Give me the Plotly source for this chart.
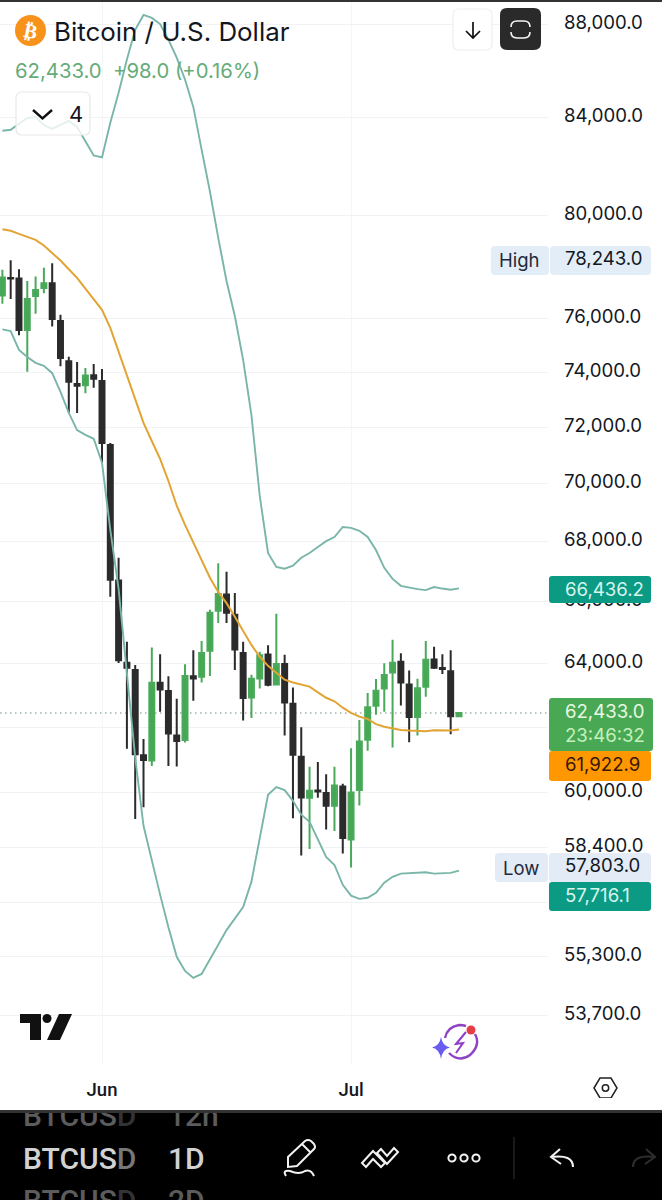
import math
import re
import pandas as pd
import plotly.graph_objects as go

# Daily BTC/USD candles, May 20 to Jul 14
dates = pd.date_range("2026-05-20", "2026-07-14", freq="D")

opens = [76880, 77550, 77530, 75570, 76860, 77170, 77350, 75910, 74400, 73560, 73520, 73880, 73670,
         71360, 66700, 64020, 63790, 61130, 60970, 63380, 63120, 61740, 61600, 63590, 63570, 64400,
         65700, 66230, 65570, 64330, 62920, 63520, 64280, 63330, 63980, 62720, 61090, 59850, 60070,
         59990, 59610, 60190, 58620, 60080, 61610, 62660, 63200, 63710, 64050, 63330, 62310, 63260,
         64120, 63850, 63750, 62335]
highs = [77870, 78243, 77890, 77440, 77610, 77950, 78130, 76150, 74570, 74370, 74150, 74300, 74110,
         71430, 67460, 64690, 63950, 61630, 64510, 64290, 63590, 62880, 63970, 64420, 64720, 65730,
         67270, 66990, 66280, 64690, 63640, 64370, 64580, 65600, 64270, 63230, 61990, 60780, 60930,
         60560, 60780, 60270, 61350, 62220, 63060, 63500, 64000, 64760, 64320, 63770, 63510, 64720,
         64530, 64290, 64420, 62460]
lows = [76560, 76750, 75370, 74010, 76180, 76970, 75700, 74220, 72520, 72510, 73220, 73420, 70730,
        66160, 64010, 61330, 59220, 59570, 60810, 62470, 60810, 60790, 61520, 62820, 63390, 63600,
        65300, 65300, 63790, 62200, 62280, 63200, 63270, 63300, 61740, 59240, 58150, 58340, 59850,
        58910, 58870, 58210, 57803, 59620, 61270, 62380, 62470, 61370, 62670, 61530, 61740, 62940,
        63820, 63660, 61780, 62310]
closes = [77570, 77530, 75570, 76750, 77090, 77350, 75985, 74520, 73640, 73500, 73870, 73750, 71430,
          66720, 64100, 63860, 61160, 60990, 63380, 63170, 61800, 61570, 63600, 63520, 64330, 65630,
          66250, 65630, 64440, 62900, 63510, 64260, 63320, 63980, 62760, 61150, 59860, 60060, 60040,
          59610, 60220, 58660, 60010, 61550, 62610, 63130, 63630, 64020, 63390, 62310, 63210, 64110,
          63860, 63820, 62335, 62433]

# Bollinger Bands read per day
band_upper = [83460, 83500, 83750, 83990, 84030, 83700, 83540, 83700, 83870, 83620, 83010, 82440, 82360,
              83790, 85060, 86480, 87770, 88420, 88290, 88020, 87340, 86560, 85620, 84460, 82680, 80970,
              79120, 77440, 76100, 74450, 72430, 69570, 67620, 67150, 67090, 67190, 67460, 67620, 67820,
              68020, 68160, 68500, 68470, 68370, 68160, 67720, 67120, 66750, 66520, 66460, 66410, 66380,
              66480, 66430, 66390, 66436.2]
band_basis = [79460, 79400, 79280, 79170, 79040, 78820, 78530, 78230, 77890, 77560, 77140, 76750, 76330,
              75650, 74760, 73850, 72940, 72150, 71500, 70870, 70090, 69230, 68570, 67960, 67360, 66790,
              66320, 65950, 65500, 65020, 64590, 64210, 63920, 63700, 63480, 63390, 63320, 63260, 63080,
              62910, 62800, 62600, 62440, 62320, 62250, 62090, 62010, 61960, 61910, 61890, 61880, 61870,
              61900, 61890, 61890, 61922.9]
band_lower = [75590, 75530, 74820, 74560, 74340, 74230, 73960, 73270, 72510, 71890, 71720, 71580, 70730,
              68400, 66420, 63730, 61060, 59020, 58000, 57030, 56110, 55290, 54900, 54710, 54820, 55200,
              55620, 56030, 56370, 56680, 57400, 58670, 59940, 60170, 60080, 59760, 59350, 59140, 58610,
              58110, 57880, 57310, 57000, 56910, 56940, 57080, 57370, 57540, 57630, 57640, 57660, 57670,
              57630, 57650, 57650, 57716.1]

price_ticks = [88000, 84000, 80000, 76000, 74000, 72000, 70000, 68000, 66000, 64000, 62000,
               60000, 58400, 56800, 55300, 53700]
month_ticks = ["2026-06-01", "2026-07-01"]
month_labels = ["Jun", "Jul"]

last_price = 62433.0
W, H = 662, 1200
PLOT_RIGHT, PLOT_BOTTOM = 548, 1064

# Log price scale: pixels per unit of ln(price), anchored on the 88,000 gridline
PX_PER_LN, Y_88K = 2006.0, 24.5
price_at = lambda py: 88000 * math.exp(-(py - Y_88K) / PX_PER_LN)
# Horizontal scale: 8.302 px per day, Jun 1 sits at x=102
PX_PER_DAY, X_JUN1 = 8.302, 102.0
date_at = lambda px: pd.Timestamp("2026-06-01") + pd.Timedelta(days=(px - X_JUN1) / PX_PER_DAY)

fx = lambda x: x / W
fy = lambda y: 1 - y / H


def path_px(d):
    """Turn a path written in page pixels into paper coordinates."""
    out, is_x = [], True
    for tok in re.findall(r"[MLQCZ]|-?\d+\.?\d*", d):
        if tok.isalpha():
            out.append(tok)
            is_x = True
        else:
            v = float(tok)
            out.append(f"{fx(v) if is_x else fy(v):.5f}")
            is_x = not is_x
    return " ".join(out)


def rounded(x0, y0, x1, y1, r):
    return (f"M {x0+r} {y0} L {x1-r} {y0} Q {x1} {y0} {x1} {y0+r} L {x1} {y1-r} Q {x1} {y1} {x1-r} {y1} "
            f"L {x0+r} {y1} Q {x0} {y1} {x0} {y1-r} L {x0} {y0+r} Q {x0} {y0} {x0+r} {y0} Z")


shapes, notes = [], []


def add_path(d, fill=None, line=None, width=0):
    s = dict(type="path", path=path_px(d), xref="paper", yref="paper", layer="above",
             line=dict(color=line or "rgba(0,0,0,0)", width=width))
    if fill:
        s["fillcolor"] = fill
    shapes.append(s)


def add_circle(cx, cy, r, fill=None, line=None, width=0):
    s = dict(type="circle", xref="paper", yref="paper", layer="above",
             x0=fx(cx - r), x1=fx(cx + r), y0=fy(cy + r), y1=fy(cy - r),
             line=dict(color=line or "rgba(0,0,0,0)", width=width))
    if fill:
        s["fillcolor"] = fill
    shapes.append(s)


def add_text(text, x, y, size, color, family="Inter", anchor="left", weight=None, angle=0):
    font = dict(family=family, size=size, color=color)
    if weight:
        font["weight"] = weight
    notes.append(dict(text=text, x=fx(x), y=fy(y), xref="paper", yref="paper", xanchor=anchor,
                      yanchor="middle", showarrow=False, font=font, textangle=angle, borderpad=0))


fig = go.Figure()
band_color = "#7ab5a9"
for name, vals, color, lw in [("Upper", band_upper, band_color, 1.9),
                              ("Lower", band_lower, band_color, 1.9),
                              ("Basis", band_basis, "#e2a434", 2.0)]:
    fig.add_trace(go.Scatter(x=dates, y=vals, mode="lines", name=name,
                             line=dict(color=color, width=lw), showlegend=False))
fig.add_trace(go.Candlestick(
    x=dates, open=opens, high=highs, low=lows, close=closes, name="BTCUSD", showlegend=False,
    increasing=dict(line=dict(color="#4aa95a", width=2), fillcolor="#45a853"),
    decreasing=dict(line=dict(color="#2b2b2b", width=2), fillcolor="#2b2b2b"),
))

# Last-price dotted guide
shapes.append(dict(type="line", xref="x", yref="y", layer="below",
                   x0=date_at(0), x1=date_at(PLOT_RIGHT), y0=last_price, y1=last_price,
                   line=dict(color="#9db5a2", width=1.4, dash="1.5px,3.5px")))

# Top edge of the page
add_path("M 0 0 L 662 0 L 662 2 L 0 2 Z", fill="#333333")

# Header
add_circle(30.5, 30.5, 15.5, fill="#f7931a")
add_text("₿", 30.5, 31, 20, "#ffffff", family="DejaVu Sans", anchor="center", weight="bold", angle=12)
add_text("Bitcoin / U.S. Dollar", 53, 31, 25.9, "#131722")
add_text("62,433.0\u00a0\u00a0+98.0 (+0.16%)", 14, 70, 20.3, "#66ab79")

# Collapsed indicators button
add_path(rounded(16, 92, 90, 135, 6), fill="rgba(255,255,255,0.8)", line="#e8e8e8", width=1.2)
add_path("M 33 110 L 42.5 118.5 L 52 110", line="#111111", width=2.4)
add_text("4", 68, 114, 22, "#131722")

# Top-right buttons
add_path(rounded(453, 9, 492, 50, 6), fill="#ffffff", line="#eeeeee", width=1.2)
add_path("M 473 22 L 473 38 M 466 31 L 473 38 L 480 31", line="#111111", width=1.7)
add_path(rounded(500, 8, 541, 50, 7), fill="#2a2a2a")
add_path("M 511 27 Q 511 21 517 21 L 524 21 Q 530 21 530 27 M 511 32 Q 511 38 517 38 L 524 38 Q 530 38 530 32",
         line="#f5f5f5", width=1.6)

# Price tags on the scale
TAG_X0, TAG_X1 = 549, 651
LABEL_X, LABEL_SIZE = 563.5, 18.6
add_path(rounded(491, 246, 549, 275, 4), fill="#e3edf8")
add_path(rounded(550, 246, 651, 275, 4), fill="#e3edf8")
add_text("High", 497.5, 260, 18.5, "#1f2a3a")
add_text("78,243.0", LABEL_X, 258, LABEL_SIZE, "#131722")

add_path(rounded(TAG_X0, 576, TAG_X1, 603, 3), fill="#0b9a83")
add_text("66,436.2", LABEL_X, 589, LABEL_SIZE, "#d8f5ee")

add_path(rounded(TAG_X0, 698, 653, 751, 3), fill="#48a854")
add_text("62,433.0", LABEL_X, 711, LABEL_SIZE, "#e8f8e4")
add_text("23:46:32", LABEL_X, 735, LABEL_SIZE, "#c6f0bb")

add_path(rounded(TAG_X0, 751, TAG_X1, 781, 3), fill="#ff9800")
add_text("61,922.9", LABEL_X, 764, LABEL_SIZE, "#3a1606")

add_path(rounded(495, 853, 548, 882, 4), fill="#e3ebf6")
add_path(rounded(549, 853, 651, 882, 4), fill="#e3ebf6")
add_text("Low", 502, 868, 18.5, "#1f2a3a")
add_text("57,803.0", LABEL_X, 865, LABEL_SIZE, "#131722")

add_path(rounded(TAG_X0, 882, TAG_X1, 911, 3), fill="#0b9a83")
add_text("57,716.1", LABEL_X, 895, LABEL_SIZE, "#d8f5ee")

# TradingView mark
add_path("M 20 1014 L 41 1014 L 41 1040 L 30 1040 L 30 1023 L 20 1023 Z", fill="#111111")
add_circle(47, 1018.5, 4.5, fill="#111111")
add_path("M 59 1014 L 72 1014 L 60 1040 L 47 1040 Z", fill="#111111")

# Assistant badge
add_path("M 449 1053 Q 459 1063 470 1055 Q 481 1045 475 1034", line="#8e44c4", width=2.4)
add_path("M 445 1038 Q 447 1027 459 1025 Q 463 1025 466 1026", line="#8e44c4", width=2.4)
add_path("M 466 1032 L 456 1044 L 463 1043 L 456 1053", line="#8e3dc9", width=2)
add_path("M 441 1037 Q 442.5 1046 450 1047.5 Q 442.5 1049 441 1059 Q 439.5 1049 432 1047.5 Q 439.5 1046 441 1037 Z",
         fill="#6a5cf0")
add_circle(471, 1030, 4.5, fill="#e53e46")

# Scale settings
add_path("M 594 1088 L 600 1078 L 611 1078 L 617 1088 L 611 1098 L 600 1098 Z", line="#222222", width=1.5)
add_circle(605.5, 1088, 3.2, line="#222222", width=1.5)

# Toolbar
add_path("M 0 1111 L 662 1111 L 662 1200 L 0 1200 Z", fill="#000000")
add_text('<span style="color:#d2d2d2">BTCUS</span><span style="color:#777777">D</span>',
         22, 1158, 30, "#d2d2d2", family="Roboto", weight=500)
add_text("1D", 167, 1158, 30, "#d2d2d2", family="Roboto", weight=500)
add_text('<span style="color:#5c5c5c">BTCUS</span><span style="color:#333333">D</span>',
         22, 1115, 30, "#5c5c5c", family="Roboto", weight=500)
add_text("12h", 167, 1115, 30, "#5c5c5c", family="Roboto", weight=500)
add_text('<span style="color:#5c5c5c">BTCUS</span><span style="color:#333333">D</span>',
         22, 1200, 30, "#5c5c5c", family="Roboto", weight=500)
add_text("2D", 167, 1200, 30, "#5c5c5c", family="Roboto", weight=500)

# Strips that crop the scrolling rows at the toolbar's top edge
for y0, h, col in [(1098, 12, "#ffffff"), (1110, 3, "#333333")]:
    notes.append(dict(text=" ", x=0, y=fy(y0), xref="paper", yref="paper", xanchor="left", yanchor="top",
                      width=W, height=h, bgcolor=col, showarrow=False, borderpad=0, borderwidth=0,
                      font=dict(size=1, color=col)))

ICON = "#f2f2f2"
add_path("M 288 1167 L 288 1157 L 305 1141 Q 308 1139 311 1141 L 314 1144 Q 316 1147 314 1149 L 297 1166 Z M 302 1144 L 311 1153",
         line=ICON, width=2)
add_path("M 286 1176 Q 282 1170 290 1171 Q 299 1175 305 1171 Q 311 1169 314 1176", line=ICON, width=2)
add_path("M 362 1163 L 373 1151 L 385 1163 L 381 1167 L 373 1159 L 366 1167 Z", line=ICON, width=2)
add_path("M 377 1153 L 381 1149 L 387 1156 L 394 1148 L 398 1152 L 387 1164 Z", line=ICON, width=2)
for cx in (452, 464, 476):
    add_circle(cx, 1158, 3.6, line=ICON, width=2)
add_path("M 514 1137 L 514 1179", line="#333333", width=1)
add_path("M 560 1149 L 551 1157 L 561 1164 M 551 1157 Q 573 1154 573 1167", line=ICON, width=2)
add_path("M 646 1149 L 655 1157 L 645 1164 M 655 1157 Q 633 1154 633 1167", line="#2e2e2e", width=2)

fig.update_layout(
    width=W, height=H,
    margin=dict(l=0, r=0, t=0, b=0),
    paper_bgcolor="#ffffff", plot_bgcolor="#ffffff",
    hovermode=False,
    boxgap=0.4, boxgroupgap=0,
    shapes=shapes, annotations=notes,
    xaxis=dict(
        type="date", domain=[0, PLOT_RIGHT / W],
        range=[date_at(0), date_at(PLOT_RIGHT)],
        rangeslider=dict(visible=False),
        tickmode="array", tickvals=month_ticks, ticktext=month_labels,
        tickfont=dict(family="Roboto", size=18.5, color="#131722", weight=500),
        ticks="", ticklabelstandoff=12,
        showgrid=True, gridcolor="#f5f6f7", gridwidth=1,
        showline=False, zeroline=False,
    ),
    yaxis=dict(
        type="log", side="right", domain=[1 - PLOT_BOTTOM / H, 1],
        range=[math.log10(price_at(PLOT_BOTTOM)), math.log10(price_at(0))],
        tickmode="array", tickvals=price_ticks,
        ticktext=[f"{p:,.1f}" for p in price_ticks],
        tickfont=dict(family="Inter", size=18.6, color="#131722"),
        ticks="", ticklabelstandoff=15, ticklabelshift=-2,
        showgrid=True, gridcolor="#f1f2f4", gridwidth=1,
        showline=False, zeroline=False,
    ),
)

fig.write_html("out.html", config=dict(displayModeBar=False))
